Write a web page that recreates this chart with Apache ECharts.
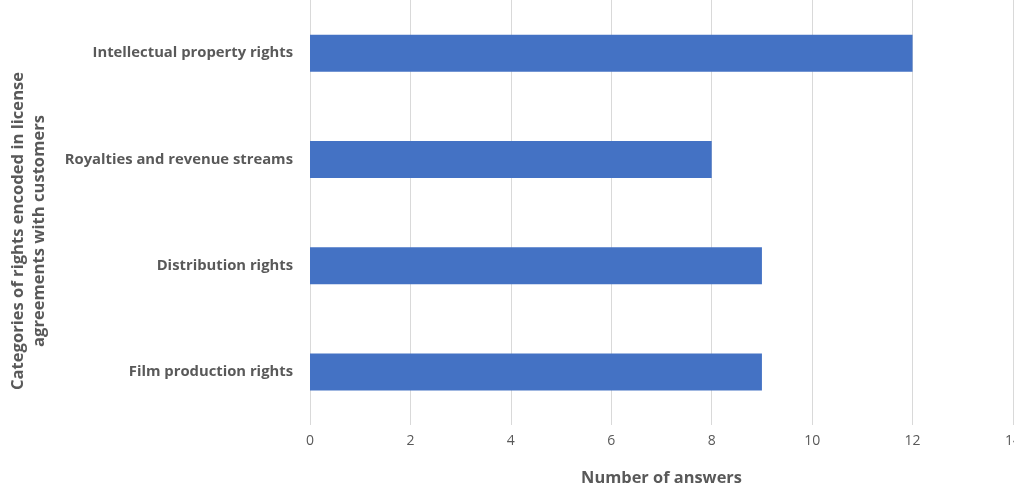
<!DOCTYPE html>
<html>
<head>
<meta charset="utf-8">
<script src="https://cdn.jsdelivr.net/npm/echarts@6/dist/echarts.min.js"></script>
<style>
  html, body { margin: 0; padding: 0; background: #fff; }
  #main { width: 1014px; height: 489px; }
</style>
</head>
<body>
<div id="main"></div>
<script>
// categories, bottom to top
var categories = ['Film production rights', 'Distribution rights', 'Royalties and revenue streams', 'Intellectual property rights'];
var answers = [9, 9, 8, 12];
var xTicks = [0, 2, 4, 6, 8, 10, 12, 14];

var myChart = echarts.init(document.getElementById('main'));
var font = '"Open Sans", sans-serif';

var option = {
  animation: false,
  grid: {
    left: 310,
    right: 1,
    top: 0,
    bottom: 64,
    outerBoundsMode: 'none'
  },
  xAxis: {
    type: 'value',
    min: xTicks[0],
    max: xTicks[xTicks.length - 1],
    interval: 2,
    axisLine: { show: false },
    axisTick: { show: false },
    splitLine: { show: true, lineStyle: { color: '#d9d9d9', width: 1 } },
    axisLabel: { color: '#595959', fontSize: 14, fontFamily: font, margin: 9, showMaxLabel: true, hideOverlap: false },
    name: 'Number of answers',
    nameLocation: 'middle',
    nameGap: 45,
    nameTextStyle: { color: '#595959', fontSize: 16.4, fontWeight: 'bold', fontFamily: font }
  },
  yAxis: {
    type: 'category',
    data: categories,
    axisLine: { show: false },
    axisTick: { show: false },
    axisLabel: { color: '#595959', fontSize: 14.8, fontWeight: 'bold', fontFamily: font, margin: 17 }
  },
  series: [{
    type: 'bar',
    data: answers,
    barWidth: 37,
    itemStyle: { color: '#4472c4' }
  }],
  graphic: [{
    type: 'text',
    x: 29,
    y: 231,
    rotation: Math.PI / 2,
    style: {
      text: 'Categories of rights encoded in license\nagreements with customers',
      fill: '#595959',
      font: 'bold 16.6px "Open Sans", sans-serif',
      align: 'center',
      verticalAlign: 'middle',
      lineHeight: 21
    }
  }]
};

myChart.setOption(option);
</script>
</body>
</html>
